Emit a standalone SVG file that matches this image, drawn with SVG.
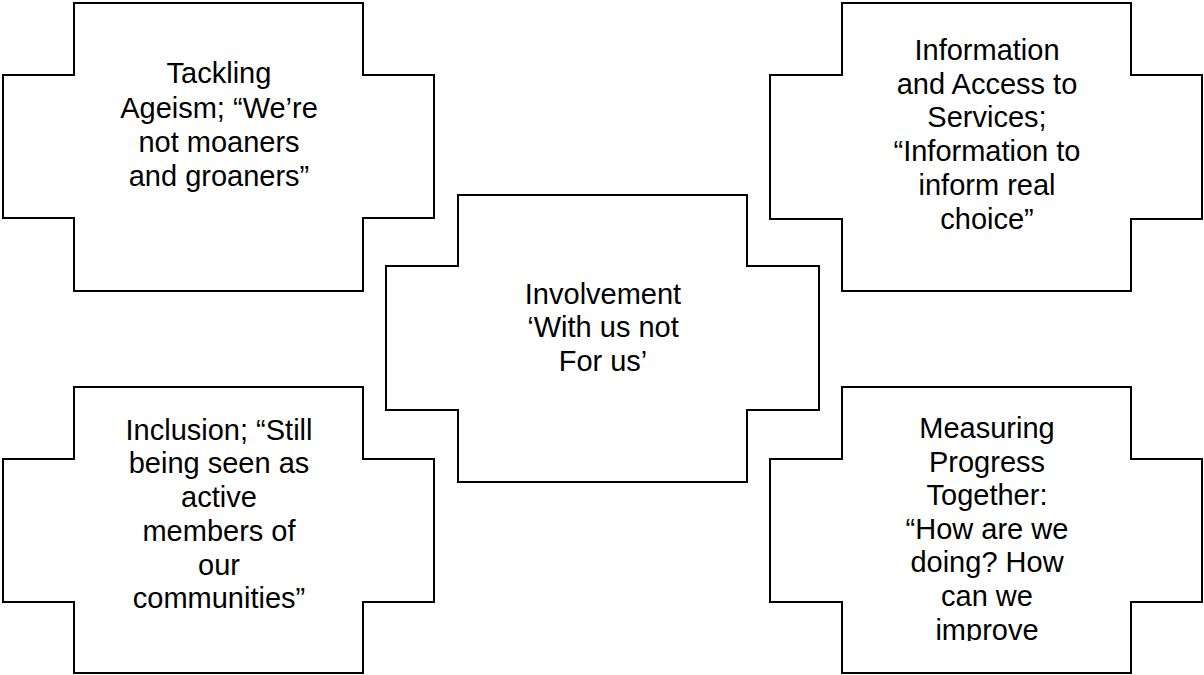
<svg xmlns="http://www.w3.org/2000/svg" width="1204" height="675" viewBox="0 0 1204 675">
<style>
.shape{fill:#fff;stroke:#000;stroke-width:2;stroke-linejoin:miter}
.t{font-family:"Liberation Sans",Arial,sans-serif;font-size:29px;fill:#000;text-anchor:middle}
</style>
<defs>
<clipPath id="clipBR"><rect x="842" y="387" width="289" height="254"/></clipPath>
</defs>
<rect width="1204" height="675" fill="#fff"/>
<g id="connectors"></g>
<g id="node-ageism">
<path class="shape" d="M74,3 H363 V75 H434 V218 H363 V291 H74 V218 H3 V75 H74 Z"/>
<text class="t" x="219" y="83">Tackling</text>
<text class="t" x="219" y="117.5">Ageism; “We’re</text>
<text class="t" x="219" y="152">not moaners</text>
<text class="t" x="219" y="186">and groaners”</text>
</g>
<g id="node-information">
<path class="shape" d="M842,3 H1131 V75 H1202 V219 H1131 V291 H842 V219 H770 V75 H842 Z"/>
<text class="t" x="987" y="60">Information</text>
<text class="t" x="987" y="93.5">and Access to</text>
<text class="t" x="987" y="127">Services;</text>
<text class="t" x="987" y="161">“Information to</text>
<text class="t" x="987" y="195">inform real</text>
<text class="t" x="987" y="228.5">choice”</text>
</g>
<g id="node-involvement">
<path class="shape" d="M458,195 H747 V266 H819 V410 H747 V482 H458 V410 H386 V266 H458 Z"/>
<text class="t" x="603" y="303.5">Involvement</text>
<text class="t" x="603" y="337">‘With us not</text>
<text class="t" x="603" y="370.5">For us’</text>
</g>
<g id="node-inclusion">
<path class="shape" d="M74,387 H363 V459 H434 V602 H363 V673 H74 V602 H3 V459 H74 Z"/>
<text class="t" x="219" y="439.5">Inclusion; “Still</text>
<text class="t" x="219" y="473">being seen as</text>
<text class="t" x="219" y="507">active</text>
<text class="t" x="219" y="541">members of</text>
<text class="t" x="219" y="574.5">our</text>
<text class="t" x="219" y="608">communities”</text>
</g>
<g id="node-measuring">
<path class="shape" d="M842,387 H1131 V459 H1202 V602 H1131 V673 H842 V602 H770 V459 H842 Z"/>
<g clip-path="url(#clipBR)">
<text class="t" x="987" y="437.5">Measuring</text>
<text class="t" x="987" y="471.5">Progress</text>
<text class="t" x="987" y="505">Together:</text>
<text class="t" x="987" y="538.5">“How are we</text>
<text class="t" x="987" y="572">doing? How</text>
<text class="t" x="987" y="606">can we</text>
<text class="t" x="987" y="639.5">improve</text>
</g>
</g>
</svg>
